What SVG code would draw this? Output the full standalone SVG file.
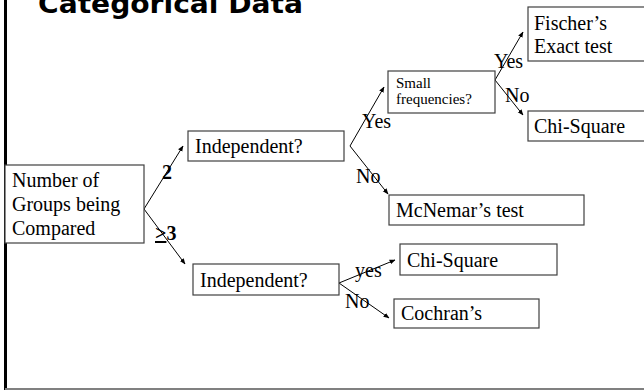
<svg xmlns="http://www.w3.org/2000/svg" width="644" height="391" viewBox="0 0 644 391">
<style>
.box{fill:#fff;stroke:#404040;stroke-width:1.2}
.t{font-family:"Liberation Serif","Times New Roman",serif;font-size:20px;fill:#000}
.s{font-family:"Liberation Serif","Times New Roman",serif;font-size:15px;fill:#000}
.b{font-family:"Liberation Serif","Times New Roman",serif;font-size:20px;font-weight:bold;fill:#000}
.c{stroke:#000;stroke-width:1;fill:none;marker-end:url(#ah)}
</style>
<defs>
<marker id="ah" viewBox="0 0 10 10" refX="9" refY="5" markerWidth="6" markerHeight="6" orient="auto" markerUnits="userSpaceOnUse">
<path d="M0,1 L10,5 L0,9 Z" fill="#000"/>
</marker>
</defs>
<rect width="644" height="391" fill="#fff"/>
<g id="frame">
<line x1="5.5" y1="0" x2="5.5" y2="390" stroke="#000" stroke-width="3"/>
<line x1="5" y1="389" x2="644" y2="389" stroke="#808080" stroke-width="2"/>
</g>
<text id="title" x="38" y="13" font-family="'Comic Sans MS','DejaVu Sans',sans-serif" font-weight="bold" font-size="26" textLength="265" lengthAdjust="spacingAndGlyphs">Categorical Data</text>
<g id="connectors">
<line class="c" x1="144" y1="209" x2="183" y2="146"/>
<line class="c" x1="144" y1="209" x2="185" y2="264"/>
<line class="c" x1="350" y1="146" x2="384" y2="87"/>
<line class="c" x1="350" y1="146" x2="388" y2="194"/>
<line class="c" x1="495" y1="80" x2="523" y2="32"/>
<line class="c" x1="495" y1="80" x2="523" y2="115"/>
<line class="c" x1="339" y1="283" x2="395" y2="260"/>
<line class="c" x1="339" y1="283" x2="389" y2="318"/>
</g>
<g id="labels">
<text class="b" x="162" y="179">2</text>
<text class="b" x="155" y="240"><tspan text-decoration="underline">&gt;</tspan>3</text>
<text class="t" x="362" y="128">Yes</text>
<text class="t" x="356" y="183">No</text>
<text class="t" x="494" y="68">Yes</text>
<text class="t" x="505" y="102">No</text>
<text class="t" x="355" y="277">yes</text>
<text class="t" x="345" y="308">No</text>
</g>
<g id="n-groups">
<rect class="box" x="5" y="165" width="139" height="78"/>
<text class="t" x="12" y="187">Number of</text>
<text class="t" x="12" y="211">Groups being</text>
<text class="t" x="12" y="235">Compared</text>
</g>
<g id="n-indep1">
<rect class="box" x="188" y="131" width="156" height="30"/>
<text class="t" x="195" y="153">Independent?</text>
</g>
<g id="n-indep2">
<rect class="box" x="193" y="264" width="146" height="31"/>
<text class="t" x="200" y="287">Independent?</text>
</g>
<g id="n-small">
<rect class="box" x="388" y="71" width="107" height="42"/>
<text class="s" x="396" y="88">Small</text>
<text class="s" x="396" y="104">frequencies?</text>
</g>
<g id="n-fischer">
<rect class="box" x="528" y="7" width="130" height="54"/>
<text class="t" x="534" y="30">Fischer’s</text>
<text class="t" x="534" y="53">Exact test</text>
</g>
<g id="n-chi1">
<rect class="box" x="528" y="111" width="130" height="30"/>
<text class="t" x="534" y="133">Chi-Square</text>
</g>
<g id="n-mcnemar">
<rect class="box" x="389" y="195" width="195" height="30"/>
<text class="t" x="396" y="217">McNemar’s test</text>
</g>
<g id="n-chi2">
<rect class="box" x="400" y="244" width="157" height="31"/>
<text class="t" x="407" y="267">Chi-Square</text>
</g>
<g id="n-cochran">
<rect class="box" x="394" y="299" width="145" height="29"/>
<text class="t" x="401" y="320">Cochran’s</text>
</g>
</svg>
